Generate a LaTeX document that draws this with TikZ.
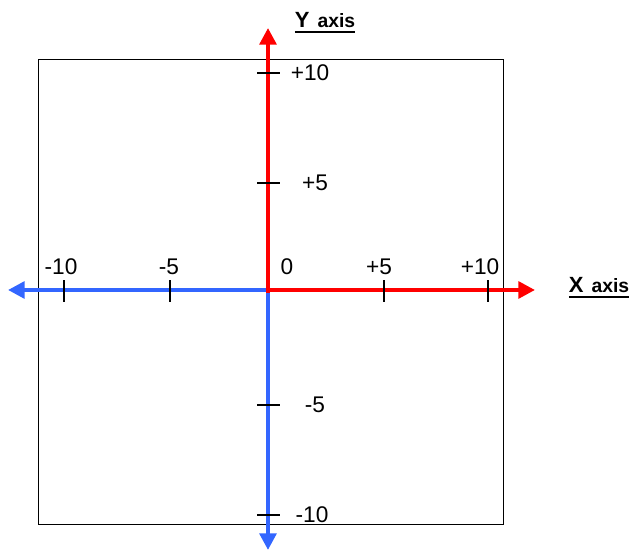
\documentclass[tikz,border=0pt]{standalone}
\usepackage{fontspec}
\setmainfont{Liberation Sans}
\usepackage{tikz}
\usetikzlibrary{arrows.meta}
\definecolor{axred}{HTML}{FF0000}
\definecolor{axblue}{HTML}{3366FF}
\newcommand\axul[1]{\setbox0\hbox{#1}\rlap{\raisebox{-4pt}{\rule{\wd0}{1.7pt}}}\box0}
\newcommand\axword[1]{{\fontsize{16.5}{18}\selectfont #1}\hspace{6pt}{\fontsize{14.5}{18}\selectfont axis}}

\begin{document}
\begin{tikzpicture}[x=0.75pt,y=0.75pt,>={Triangle[length=12.5pt,width=12.5pt]},
  axline/.style={line width=3pt},
  tk/.style={line width=1.4pt,black},
  num/.style={inner sep=0pt,font=\fontsize{17}{19}\selectfont},
  axname/.style={inner sep=0pt,anchor=base,font=\bfseries}]
  \useasboundingbox (0,0) rectangle (632,552);
  \draw[line width=0.75pt] (38,27) rectangle (503,492);
  \coordinate (O) at (268,262);
  \coordinate (ytop) at (268,524);
  \coordinate (ybot) at (268,2);
  \coordinate (xright) at (535,262);
  \coordinate (xleft) at (8,262);
  % negative halves
  \draw[->,axline,axblue] (O) -- (xleft);
  \draw[->,axline,axblue] (O) -- (ybot);
  % positive halves
  \draw[->,axline,axred] ([yshift=-2.25pt]O) -- (ytop);
  \draw[->,axline,axred] (O) -- (xright);
  \foreach \px/\lx/\lab in {64/61/-10,170/169/-5,384/379/+5,488/480/+10}{
    \draw[tk] (\px,250) -- (\px,272);
    \node[num] (xl\px) at (\lx,285) {\lab};}
  \foreach \py/\lx/\lab in {479/310/+10,369/315/+5,147/315/-5,37/312/-10}{
    \draw[tk] (257,\py) -- (280,\py);
    \node[num] (yl\py) at (\lx,\py) {\lab};}
  \node[num] (zero) at (287,285) {0};
  \node[axname] (yname) at (325,524) {\axul{\axword{Y}}};
  \node[axname] (xname) at (599,259) {\axul{\axword{X}}};
\end{tikzpicture}
\end{document}
